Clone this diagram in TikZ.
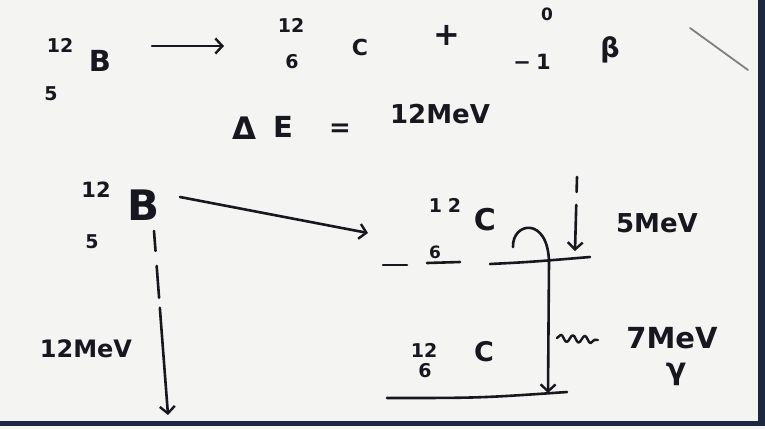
\documentclass[tikz,border=0pt]{standalone}
\usepackage{fontspec}
\setmainfont{DejaVu Sans}
\usetikzlibrary{arrows.meta,decorations.pathmorphing}
\definecolor{ink}{HTML}{17171F}
\definecolor{paper}{HTML}{F4F4F2}
\definecolor{edge}{HTML}{1C2742}
\begin{document}
\begin{tikzpicture}[x=1pt,y=-1pt,line width=2.6pt,line cap=round,line join=round,draw=ink,
  txt/.style={inner sep=0pt,text=ink},
  fs/.style={font=\fontsize{#1}{#1}\selectfont\bfseries},
  arr/.style={-{Straight Barb[length=7pt,width=15pt,line width=2.4pt]}}]
\fill[paper] (0,0) rectangle (765,429);
\useasboundingbox (0,0) rectangle (765,429);
% page edges
\fill[edge] (0,421) rectangle (765,426);
\fill[edge] (758,0) rectangle (765,426);
% stray stroke
\draw[ink!55,line width=1.8pt] (690,28) -- (748,70);

% ---- reaction equation ----
\node[txt,fs=19] (bA) at (60,45) {12};
\node[txt,fs=29] (bB) at (100,61) {B};
\node[txt,fs=19] (bZ) at (51,94) {5};
\coordinate (r1) at (152,46);
\coordinate (r2) at (224,46);
\draw[arr] (r1) -- (r2);
\node[txt,fs=19] (cA) at (291,25) {12};
\node[txt,fs=19] (cZ) at (292,62) {6};
\node[txt,fs=22] (cC) at (360,47) {C};
\node[txt,fs=32] (plus) at (447,35) {+};
\node[txt,fs=17] (eA) at (547,14) {0};
\node[txt,fs=21] (eZ) at (532,62) {−\hspace{5pt}1};
\node[txt,fs=27] (beta) at (610,50) {β};

\node[txt,fs=31] (dl) at (244,128) {Δ};
\node[txt,fs=29] (dE) at (283,127) {E};
\node[txt,fs=26] (eq) at (340,130) {=};
\node[txt,fs=26] (dv) at (440,114) {12MeV};

% ---- energy level diagram ----
\node[txt,fs=21] (BA) at (96,190) {12};
\node[txt,fs=42] (BB) at (144,205) {B};
\node[txt,fs=19] (BZ) at (92,242) {5};
\coordinate (b1) at (154,231);
\coordinate (b2) at (168,415);
\draw[arr,dash pattern=on 20pt off 15pt on 32pt off 10pt on 300pt] (b1) -- (b2);
\node[txt,fs=24] (q12) at (86,349) {12MeV};

\coordinate (s1) at (180,197);
\coordinate (s2) at (368,233);
\draw[arr] (s1) -- (s2);

% excited level of C
\node[txt,fs=19] (XA) at (445,205) {1\hspace{6pt}2};
\node[txt,fs=30] (XC) at (485,220) {C};
\node[txt,fs=17] (XZ) at (435,252) {6};
\draw (383,265) -- (407,265);
\draw (427,263) -- (460,262);
\coordinate (L1) at (490,264);
\coordinate (L2) at (590,257);
\draw (L1) .. controls (530,262) .. (L2);

\coordinate (k1) at (577,177);
\coordinate (k2) at (575,251);
\draw[arr,dash pattern=on 15pt off 13pt on 100pt] (k1) -- (k2);
\node[txt,fs=26] (e5) at (657,223) {5MeV};

% gamma transition
\coordinate (g0) at (513,247);
\coordinate (g1) at (548,393);
\draw[arr] (g0) .. controls (512,222) and (548,216) .. (549,262) -- (g1);

\coordinate (w1) at (557,338);
\coordinate (w2) at (598,340);
\draw[decorate,decoration={snake,amplitude=3.5pt,segment length=12pt,post length=3pt},line width=2.4pt] (w1) -- (w2);
\node[txt,fs=29] (e7) at (672,338) {7MeV};
\node[txt,fs=30] (gam) at (676,374) {γ};

% ground level of C
\node[txt,fs=19] (GA) at (424,350) {12};
\node[txt,fs=27] (GC) at (484,352) {C};
\node[txt,fs=19] (GZ) at (425,371) {6};
\coordinate (G1) at (387,398);
\coordinate (G2) at (567,392);
\draw (G1) .. controls (480,398) .. (G2);
\end{tikzpicture}
\end{document}
